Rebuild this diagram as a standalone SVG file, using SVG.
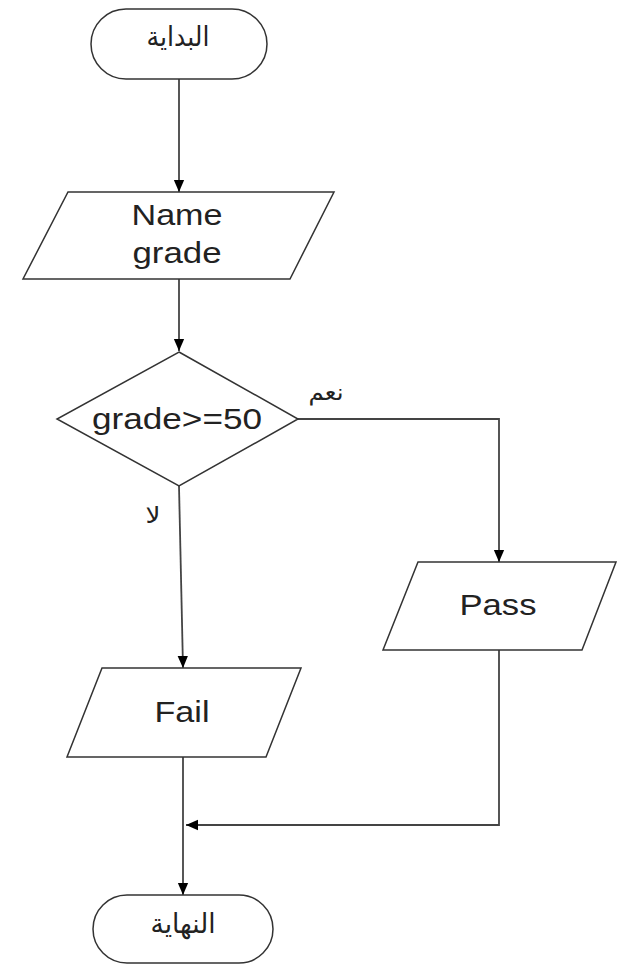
<svg xmlns="http://www.w3.org/2000/svg" width="617" height="966" viewBox="0 0 617 966">
<style>
.shape{fill:#fff;stroke:#333;stroke-width:1.5}
.conn{fill:none;stroke:#444;stroke-width:1.8}
.en{font-family:"Liberation Sans",Arial,sans-serif;font-size:30px;fill:#222;text-anchor:middle}
.ar{font-family:"DejaVu Sans","Noto Sans",sans-serif;fill:#222;text-anchor:middle}
</style>
<defs>
<marker id="arr" viewBox="0 0 12 14" refX="14" refY="7" markerWidth="14" markerHeight="12" markerUnits="userSpaceOnUse" orient="auto">
<path d="M0,1 L14,7 L0,13 Z" fill="#000"/>
</marker>
</defs>
<rect width="617" height="966" fill="#fff"/>
<g id="connectors">
<path class="conn" d="M179,79 L179,192" marker-end="url(#arr)"/>
<path class="conn" d="M179,279 L179,351" marker-end="url(#arr)"/>
<path class="conn" d="M298,419 L499,419 L499,562" marker-end="url(#arr)"/>
<path class="conn" d="M179,486 L183,668" marker-end="url(#arr)"/>
<path class="conn" d="M499,650 L499,825 L186,825" marker-end="url(#arr)"/>
<path class="conn" d="M183,757 L183,895" marker-end="url(#arr)"/>
<text class="ar" x="326" y="400" font-size="23" textLength="35" lengthAdjust="spacingAndGlyphs">نعم</text>
<text class="ar" x="153" y="523" font-size="23" textLength="15" lengthAdjust="spacingAndGlyphs">لا</text>
</g>
<g id="start">
<rect class="shape" x="91" y="9" width="176" height="70" rx="35" ry="35"/>
<text class="ar" x="178" y="46" font-size="27" textLength="63" lengthAdjust="spacingAndGlyphs">البداية</text>
</g>
<g id="input">
<polygon class="shape" points="68,192 334,192 290,279 23,279"/>
<text class="en" x="177" y="225" textLength="91" lengthAdjust="spacingAndGlyphs">Name</text>
<text class="en" x="177" y="263" textLength="89" lengthAdjust="spacingAndGlyphs">grade</text>
</g>
<g id="decision">
<polygon class="shape" points="179,352 298,419 179,486 57,419"/>
<text class="en" x="177" y="429" textLength="170" lengthAdjust="spacingAndGlyphs">grade&gt;=50</text>
</g>
<g id="pass">
<polygon class="shape" points="418,562 616,562 582,650 383,650"/>
<text class="en" x="498" y="615" textLength="77" lengthAdjust="spacingAndGlyphs">Pass</text>
</g>
<g id="fail">
<polygon class="shape" points="102,668 301,668 266,757 67,757"/>
<text class="en" x="182" y="722" textLength="55" lengthAdjust="spacingAndGlyphs">Fail</text>
</g>
<g id="end">
<rect class="shape" x="93" y="895" width="180" height="68" rx="34" ry="34"/>
<text class="ar" x="183" y="933" font-size="27" textLength="65" lengthAdjust="spacingAndGlyphs">النهاية</text>
</g>
</svg>
